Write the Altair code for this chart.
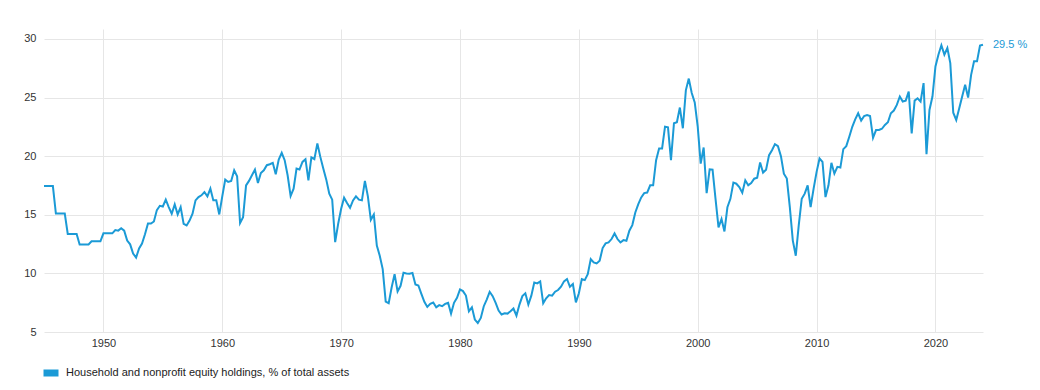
import altair as alt
import pandas as pd

# ---- data (quarterly) ----
start_date = "1945-01-01"
values = [
    17.45, 17.45, 17.45, 17.45,   # 1945
    15.1, 15.1, 15.1, 15.1,       # 1946
    13.37, 13.37, 13.37, 13.37,   # 1947
    12.47, 12.47, 12.47, 12.47,   # 1948
    12.74, 12.74, 12.74, 12.74,   # 1949
    13.42, 13.42, 13.42, 13.42,   # 1950
    13.7, 13.65, 13.85, 13.65,    # 1951
    12.8, 12.48, 11.7, 11.35,     # 1952
    12.13, 12.54, 13.34, 14.25,   # 1953
    14.25, 14.43, 15.4, 15.77,    # 1954
    15.71, 16.29, 15.66, 15.09,   # 1955
    15.89, 15.03, 15.66, 14.23,   # 1956
    14.09, 14.51, 15.09, 16.23,   # 1957
    16.51, 16.66, 16.94, 16.57,   # 1958
    17.23, 16.23, 16.23, 15.03,   # 1959
    16.57, 18.0, 17.8, 17.89,     # 1960
    18.8, 18.29, 14.29, 14.8,     # 1961
    17.51, 17.89, 18.37, 18.86,   # 1962
    17.71, 18.57, 18.8, 19.23,    # 1963
    19.31, 19.43, 18.46, 19.71,   # 1964
    20.29, 19.66, 18.37, 16.6,    # 1965
    17.23, 18.94, 18.86, 19.51,   # 1966
    19.74, 17.94, 19.89, 19.74,   # 1967
    21.09, 19.94, 18.94, 18.0,    # 1968
    16.8, 16.29, 12.66, 14.23,    # 1969
    15.51, 16.46, 16.0, 15.6,     # 1970
    16.23, 16.57, 16.29, 16.23,   # 1971
    17.89, 16.57, 14.57, 15.03,   # 1972
    12.37, 11.51, 10.37, 7.6,     # 1973
    7.46, 8.8, 9.94, 8.46,        # 1974
    8.94, 10.06, 10.0, 9.97,      # 1975
    10.03, 9.06, 8.97, 8.26,      # 1976
    7.57, 7.14, 7.4, 7.51,        # 1977
    7.11, 7.29, 7.2, 7.4,         # 1978
    7.49, 6.57, 7.49, 7.91,       # 1979
    8.63, 8.49, 8.11, 6.77,       # 1980
    7.11, 6.06, 5.77, 6.2,        # 1981
    7.2, 7.77, 8.43, 8.06,        # 1982
    7.49, 6.83, 6.49, 6.6,        # 1983
    6.57, 6.77, 7.0, 6.4,         # 1984
    7.34, 8.06, 8.3, 7.35,        # 1985
    8.1, 9.23, 9.15, 9.32,        # 1986
    7.45, 7.87, 8.15, 8.1,        # 1987
    8.44, 8.58, 8.86, 9.32,       # 1988
    9.52, 8.86, 9.09, 7.53,       # 1989
    8.3, 9.52, 9.43, 9.94,        # 1990
    11.22, 10.94, 10.85, 11.08,   # 1991
    12.16, 12.56, 12.64, 12.93,   # 1992
    13.41, 12.93, 12.64, 12.84,   # 1993
    12.78, 13.64, 14.12, 15.2,    # 1994
    15.91, 16.48, 16.85, 16.9,    # 1995
    17.51, 17.51, 19.66, 20.66,   # 1996
    20.66, 22.52, 22.46, 19.66,   # 1997
    22.81, 22.89, 24.15, 22.38,   # 1998
    25.62, 26.62, 25.39, 24.58,   # 1999
    22.52, 19.37, 20.74, 16.85,   # 2000
    18.88, 18.85, 16.36, 13.93,   # 2001
    14.64, 13.58, 15.64, 16.36,   # 2002
    17.74, 17.65, 17.36, 16.88,   # 2003
    17.94, 17.51, 17.71, 18.08,   # 2004
    18.17, 19.46, 18.6, 18.85,    # 2005
    20.09, 20.51, 21.03, 20.86,   # 2006
    20.0, 18.51, 18.09, 15.66,    # 2007
    12.8, 11.51, 14.09, 16.37,    # 2008
    16.8, 17.51, 15.66, 17.23,    # 2009
    18.66, 19.8, 19.51, 16.51,    # 2010
    17.51, 19.43, 18.51, 19.09,   # 2011
    19.03, 20.6, 20.86, 21.66,    # 2012
    22.51, 23.14, 23.66, 23.03,   # 2013
    23.43, 23.51, 23.43, 21.57,   # 2014
    22.23, 22.23, 22.34, 22.66,   # 2015
    22.89, 23.66, 23.89, 24.37,   # 2016
    25.09, 24.66, 24.74, 25.51,   # 2017
    21.94, 24.74, 24.94, 24.66,   # 2018
    26.23, 20.17, 23.94, 25.09,   # 2019
    27.66, 28.66, 29.46, 28.66,   # 2020
    29.23, 27.94, 23.71, 23.09,   # 2021
    24.09, 25.09, 26.09, 25.0,    # 2022
    26.94, 28.09, 28.09, 29.43,   # 2023
    29.5,                         # 2024
]
series_name = "Household and nonprofit equity holdings, % of total assets"
x_tick_years = [1950, 1960, 1970, 1980, 1990, 2000, 2010, 2020]
y_tick_values = [5, 10, 15, 20, 25, 30]

BLUE = "#1b9ad6"
GRID = "#e6e6e6"
FONT = "Liberation Sans"

dates = pd.date_range(start=start_date, periods=len(values), freq="QS")
df = pd.DataFrame({"date": dates, "value": values, "series": series_name})
last = df.tail(1).copy()
last["label"] = last["value"].map(lambda v: f"{v:.1f} %")

first_d, last_d = dates[0], dates[-1]
x_enc = alt.X(
    "date:T",
    title=None,
    scale=alt.Scale(domain=[
        alt.DateTime(year=first_d.year, month=first_d.month, date=first_d.day),
        alt.DateTime(year=last_d.year, month=last_d.month, date=last_d.day),
    ]),
    axis=alt.Axis(
        values=[alt.DateTime(year=y) for y in x_tick_years],
        format="%Y", ticks=False, domain=False, grid=True,
        gridColor=GRID, labelPadding=5, labelFontSize=11,
        labelColor="#333", labelFont=FONT,
    ),
)
y_enc = alt.Y(
    "value:Q",
    title=None,
    scale=alt.Scale(domain=[5, 30.85], nice=False, zero=False),
    axis=alt.Axis(
        values=y_tick_values, ticks=False, domain=False, grid=True,
        gridColor=GRID, labelPadding=8, labelFontSize=11,
        labelColor="#333", labelFont=FONT,
    ),
)

line = alt.Chart(df).mark_line(strokeWidth=2, interpolate="linear").encode(
    x=x_enc,
    y=y_enc,
    color=alt.Color(
        "series:N",
        scale=alt.Scale(range=[BLUE]),
        legend=alt.Legend(
            title=None, orient="none", legendX=-4, legendY=333,
            symbolType="stroke", symbolStrokeWidth=7, symbolSize=225,
            labelOffset=4,
            labelFontSize=11, labelColor="#222", labelFont=FONT,
            labelLimit=600,
        ),
    ),
)

end_label = alt.Chart(last).mark_text(
    align="left", baseline="middle", dx=10, fontSize=11, font=FONT, color=BLUE
).encode(x="date:T", y="value:Q", text="label:N")

chart = (
    alt.layer(line, end_label)
    .properties(
        width=939, height=303,
        padding={"left": 36, "top": 21, "right": 48, "bottom": 50},
        autosize=alt.AutoSizeParams(type="none"),
    )
    .configure_view(stroke=None)
)

chart.save("out.html", embed_options={"renderer": "svg", "actions": False})
